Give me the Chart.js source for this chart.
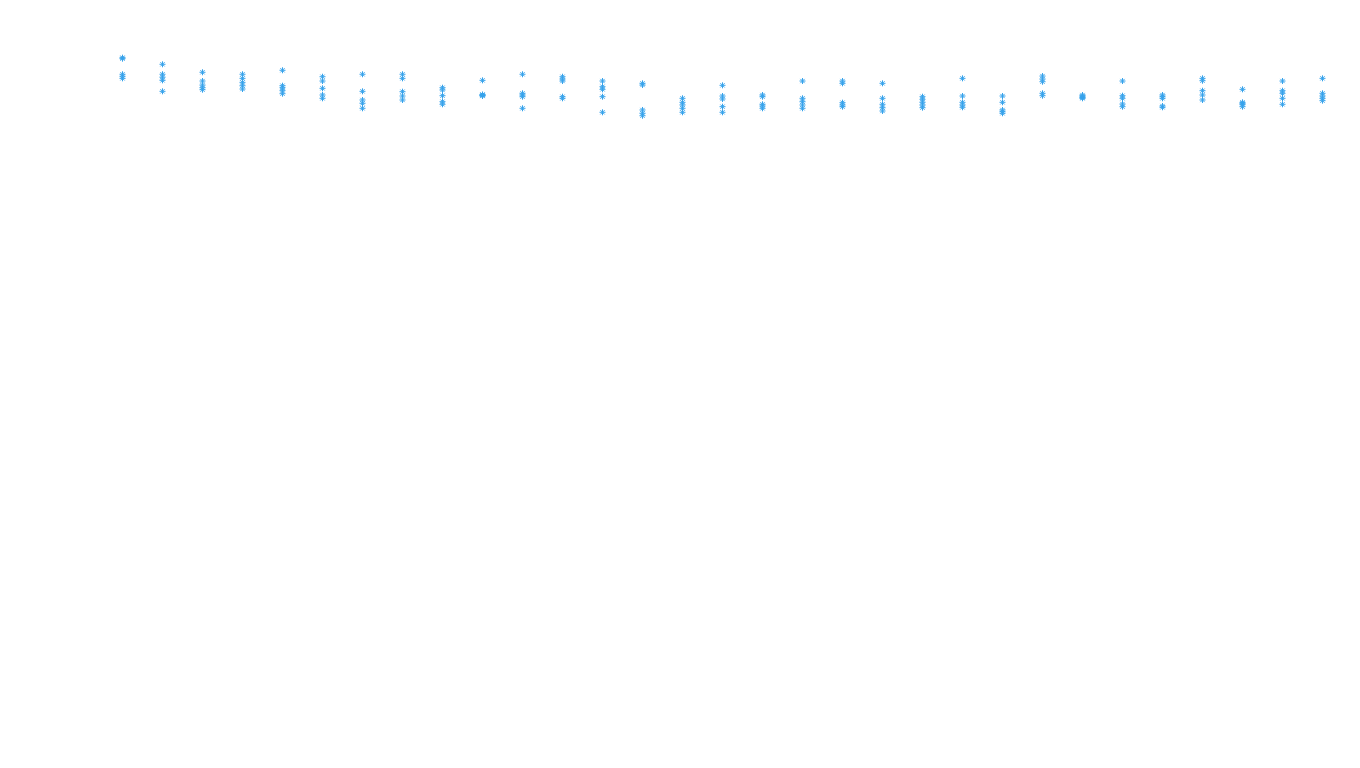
<!DOCTYPE html>
<html>
<head>
<meta charset="utf-8">
<script src="https://cdn.jsdelivr.net/npm/chart.js@4"></script>
<style>
  html, body { margin: 0; padding: 0; background: #ffffff; }
  #wrap { width: 1360px; height: 768px; position: relative; }
</style>
</head>
<body>
<div id="wrap"><canvas id="c"></canvas></div>
<script>
const categories = Array.from({length: 31}, (_, i) => String(i + 1));

const run1 = [92.49, 91.63, 90.59, 90.33, 90.85, 90.01, 90.33, 90.33, 88.58, 89.54, 90.33, 90.01, 89.45, 89.15, 87.20, 88.89, 87.63, 89.45, 89.45, 89.15, 87.41, 89.80, 87.50, 90.10, 87.63, 89.45, 87.63, 89.80, 88.37, 89.45, 89.80];
const run2 = [92.36, 90.33, 89.45, 89.80, 88.84, 89.45, 88.11, 89.80, 88.28, 87.70, 87.85, 89.71, 88.71, 88.93, 86.68, 87.50, 87.41, 87.20, 89.15, 87.20, 87.07, 87.50, 86.68, 89.71, 87.50, 87.54, 87.41, 89.49, 86.68, 88.19, 87.85];
const run3 = [90.33, 89.94, 88.93, 89.28, 88.58, 88.50, 86.98, 88.06, 87.54, 87.63, 87.63, 89.45, 88.37, 85.68, 86.33, 87.11, 86.42, 86.76, 86.63, 86.42, 86.68, 86.68, 85.68, 89.36, 87.37, 87.20, 87.20, 88.19, 86.55, 87.85, 87.50];
const run4 = [90.07, 89.54, 88.58, 88.84, 88.24, 87.63, 86.55, 87.50, 86.76, 87.57, 87.41, 87.41, 87.41, 85.25, 85.90, 86.11, 86.20, 86.33, 86.33, 85.98, 86.33, 86.33, 85.46, 87.85, 87.28, 86.46, 86.20, 87.63, 86.42, 87.20, 87.20];
const run5 = [89.80, 88.11, 88.32, 88.41, 87.80, 87.20, 85.90, 86.98, 86.42, 87.50, 85.90, 87.20, 85.38, 84.93, 85.38, 85.38, 85.90, 85.90, 86.11, 85.55, 85.98, 86.03, 85.25, 87.54, 87.20, 86.11, 86.03, 86.98, 86.11, 86.42, 86.89];

const runs = [run1, run2, run3, run4, run5];
const points = [];
categories.forEach((cat, i) => {
  runs.forEach(r => points.push({ x: cat, y: r[i] }));
});

new Chart(document.getElementById('c'), {
  type: 'scatter',
  data: {
    labels: categories,
    datasets: [{
      label: 'values',
      data: points,
      pointStyle: 'star',
      pointRadius: 3,
      pointHoverRadius: 3,
      borderWidth: 1,
      borderColor: 'rgb(54, 162, 235)',
      backgroundColor: 'rgba(54, 162, 235, 0.5)',
      clip: false
    }]
  },
  options: {
    responsive: true,
    maintainAspectRatio: false,
    animation: false,
    layout: { autoPadding: false, padding: { left: 122.5, right: 37.5, top: 0, bottom: 0 } },
    plugins: { legend: { display: false }, tooltip: { enabled: false } },
    scales: {
      x: { type: 'category', labels: categories, offset: false, display: false },
      y: { type: 'linear', min: 0, max: 100, display: false }
    }
  }
});
</script>
</body>
</html>
